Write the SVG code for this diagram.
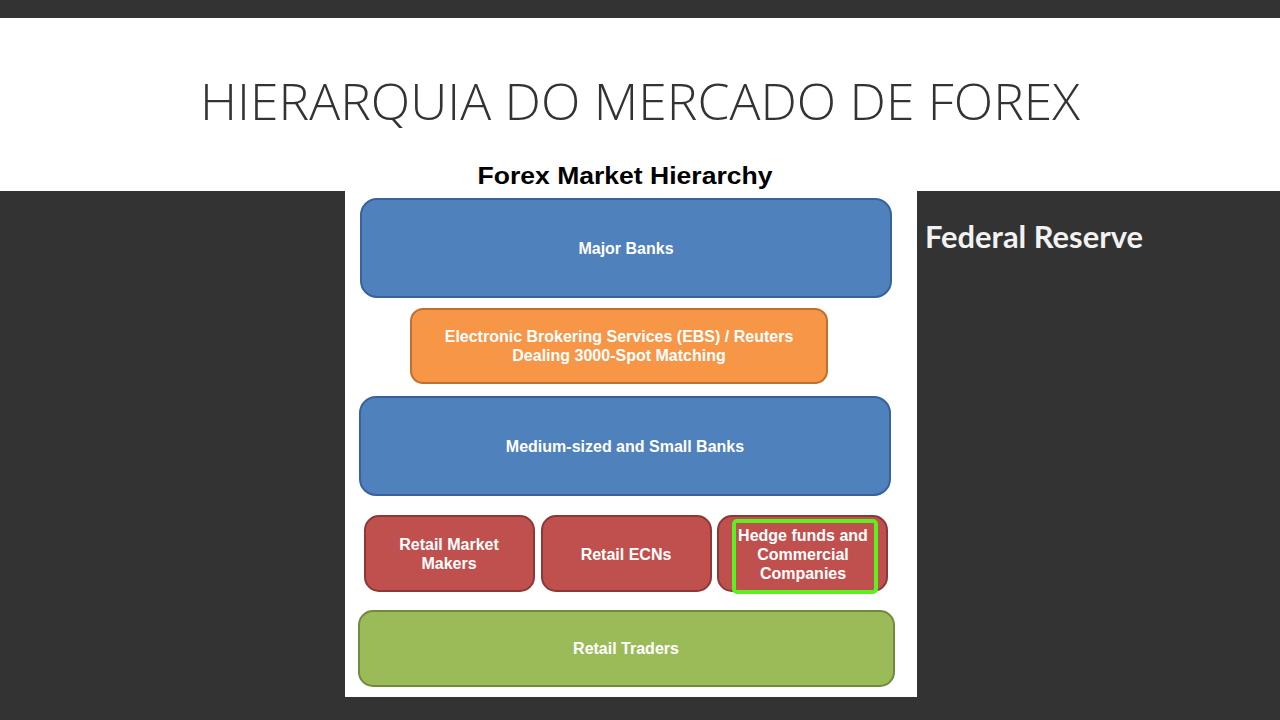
<svg xmlns="http://www.w3.org/2000/svg" width="1280" height="720" viewBox="0 0 1280 720">
<style>
.lbl{font-family:"Liberation Sans",Arial,sans-serif;font-weight:bold;font-size:16px;fill:#ffffff;text-anchor:middle}
.blue{fill:#4f81bd;stroke:#3a629a;stroke-width:2}
.orange{fill:#f79646;stroke:#c0702e;stroke-width:2}
.red{fill:#c0504d;stroke:#8c3836;stroke-width:2}
.green{fill:#9bbb59;stroke:#718a3e;stroke-width:2}
</style>
<rect x="0" y="0" width="1280" height="720" fill="#333333"/>
<rect x="0" y="18" width="1280" height="173" fill="#ffffff"/>
<rect x="345" y="150" width="572" height="547" fill="#ffffff"/>
<text x="640" y="120" font-family="'Open Sans',sans-serif" font-weight="300" font-size="49" fill="#333333" text-anchor="middle" textLength="880" lengthAdjust="spacingAndGlyphs">HIERARQUIA DO MERCADO DE FOREX</text>
<text x="625" y="184" font-family="'Liberation Sans',Arial,sans-serif" font-weight="bold" font-size="24" fill="#000000" text-anchor="middle" textLength="295" lengthAdjust="spacingAndGlyphs">Forex Market Hierarchy</text>
<text x="925" y="248" font-family="Lato,sans-serif" font-weight="bold" font-size="30" fill="#f2f2f2" textLength="218" lengthAdjust="spacingAndGlyphs">Federal Reserve</text>
<g id="major-banks">
<rect class="blue" x="361" y="199" width="530" height="98" rx="16"/>
<text class="lbl" x="626" y="254">Major Banks</text>
</g>
<g id="ebs">
<rect class="orange" x="411" y="309" width="416" height="74" rx="12"/>
<text class="lbl" x="619" y="342">Electronic Brokering Services (EBS) / Reuters</text>
<text class="lbl" x="619" y="361">Dealing 3000-Spot Matching</text>
</g>
<g id="medium-banks">
<rect class="blue" x="360" y="397" width="530" height="98" rx="16"/>
<text class="lbl" x="625" y="452">Medium-sized and Small Banks</text>
</g>
<g id="retail-market-makers">
<rect class="red" x="365" y="516" width="169" height="75" rx="14"/>
<text class="lbl" x="449" y="550">Retail Market</text>
<text class="lbl" x="449" y="569">Makers</text>
</g>
<g id="retail-ecns">
<rect class="red" x="542" y="516" width="169" height="75" rx="14"/>
<text class="lbl" x="626" y="560">Retail ECNs</text>
</g>
<g id="hedge-funds">
<rect class="red" x="718" y="516" width="169" height="75" rx="14"/>
<rect x="734" y="521" width="142" height="71" rx="3" fill="none" stroke="#5cf020" stroke-width="4"/>
<text class="lbl" x="803" y="541">Hedge funds and</text>
<text class="lbl" x="803" y="560">Commercial</text>
<text class="lbl" x="803" y="579">Companies</text>
</g>
<g id="retail-traders">
<rect class="green" x="359" y="611" width="535" height="75" rx="14"/>
<text class="lbl" x="626" y="654">Retail Traders</text>
</g>
<g id="connectors"/>
</svg>
